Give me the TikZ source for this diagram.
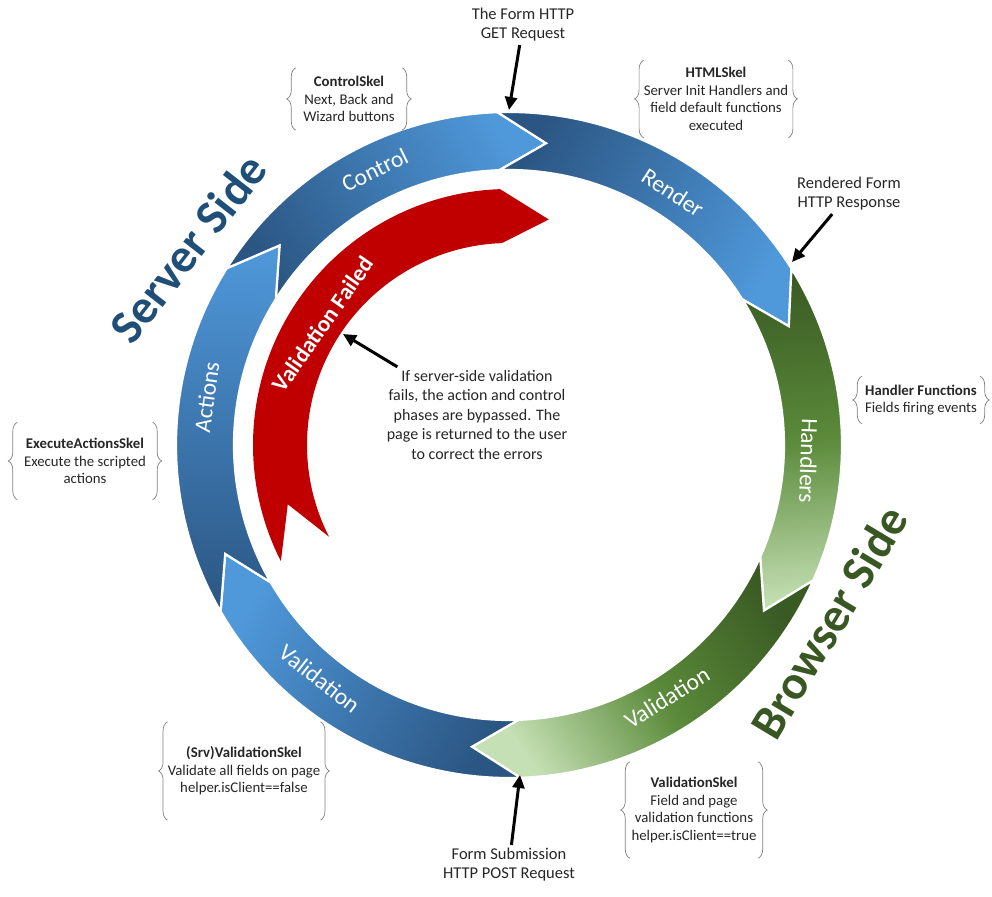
\documentclass[tikz,border=0pt]{standalone}
\usepackage{fontspec}
\setmainfont{Carlito}
\usetikzlibrary{arrows.meta,decorations.pathreplacing}

\definecolor{srvdark}{HTML}{2B5683}
\definecolor{srvlight}{HTML}{4F98DA}
\definecolor{brwdark}{HTML}{3A5A23}
\definecolor{brwmid}{HTML}{5A8A3A}
\definecolor{brwlight}{HTML}{C5E0B4}
\definecolor{srvtext}{HTML}{1F4E79}
\definecolor{brwtext}{HTML}{385723}
\definecolor{failred}{HTML}{C00000}
\definecolor{bracegray}{HTML}{7F7F7F}
\definecolor{notetext}{HTML}{262626}

\begin{document}
\begin{tikzpicture}[x=1pt,y=1pt,
    phase/.style={draw=white, line width=2.2pt, line join=miter},
    phaselabel/.style={text=white, font=\fontsize{23.5}{27}\selectfont},
    sidelabel/.style={font=\fontsize{48}{56}\selectfont\bfseries},
    skel/.style={align=center, text=notetext, inner xsep=0pt, font=\fontsize{14.8}{17.5}\selectfont},
    note/.style={align=center, text=notetext, font=\fontsize{16.5}{19}\selectfont},
    skelbrace/.style={draw=bracegray, line width=0.7pt, decorate, decoration={brace, amplitude=9pt}},
    pointer/.style={line width=3pt, -{Triangle[length=13pt, width=12pt]}}]
  \useasboundingbox (-509,-451) rectangle (483,445);

  % the ring, one phase per piece
  \shadedraw[phase, top color=srvlight, bottom color=srvdark, shading angle=-60]
    (148:333) arc[start angle=148, end angle=92, radius=333] -- (83:304) -- (92:275)
    arc[start angle=92, end angle=148, radius=275] -- (139:304) -- cycle;
  \shadedraw[phase, top color=srvlight, bottom color=srvdark, shading angle=-118]
    (92:333) arc[start angle=92, end angle=32, radius=333] -- (23:304) -- (32:275)
    arc[start angle=32, end angle=92, radius=275] -- (83:304) -- cycle;
  \shadedraw[phase, top color=brwlight, bottom color=brwdark, middle color=brwmid, shading angle=-176]
    (32:333) arc[start angle=32, end angle=-24, radius=333] -- (-33:304) -- (-24:275)
    arc[start angle=-24, end angle=32, radius=275] -- (23:304) -- cycle;
  \shadedraw[phase, top color=brwlight, bottom color=brwdark, middle color=brwmid, shading angle=124]
    (-24:333) arc[start angle=-24, end angle=-88, radius=333] -- (-97:304) -- (-88:275)
    arc[start angle=-88, end angle=-24, radius=275] -- (-33:304) -- cycle;
  \shadedraw[phase, top color=srvlight, bottom color=srvdark, shading angle=61]
    (-88:333) arc[start angle=-88, end angle=-150, radius=333] -- (-159:304) -- (-150:275)
    arc[start angle=-150, end angle=-88, radius=275] -- (-97:304) -- cycle;
  \shadedraw[phase, top color=srvlight, bottom color=srvdark, shading angle=-1]
    (210:333) arc[start angle=210, end angle=148, radius=333] -- (139:304) -- (148:275)
    arc[start angle=148, end angle=210, radius=275] -- (201:304) -- cycle;

  % short cut when validation fails
  \fill[failred]
    (207:256) arc[start angle=207, end angle=92, radius=256] -- (80:229) -- (92:202)
    arc[start angle=92, end angle=207, radius=202] -- (195:229) -- cycle;

  \node[phaselabel, rotate=26] (control) at (116:306) {Control};
  \node[phaselabel, rotate=-33] (render) at (57:301) {Render};
  \node[phaselabel, rotate=-92] (handlers) at (-3:300) {Handlers};
  \node[phaselabel, rotate=32] (brwval) at (-58:298) {Validation};
  \node[phaselabel, rotate=-38] (srvval) at (-129:301) {Validation};
  \node[phaselabel, rotate=82] (actions) at (171:306) {Actions};
  \node[phaselabel, rotate=55, font=\fontsize{23}{27}\selectfont\bfseries] (failed) at (147:222) {Validation Failed};

  \node[sidelabel, text=srvtext, rotate=52] (server) at (-321,197) {Server Side};
  \node[sidelabel, text=brwtext, rotate=59] (browser) at (320,-177) {Browser Side};

  % skeleton notes with braces
  \node[skel, minimum width=106pt, minimum height=62pt] (ctrlskel) at (-160,346)
    {\textbf{ControlSkel}\\Next, Back and\\Wizard buttons};
  \node[skel, minimum width=142pt, minimum height=77pt] (htmlskel) at (207,346)
    {\textbf{HTMLSkel}\\Server Init Handlers and\\field default functions\\executed};
  \node[skel, minimum width=118pt, minimum height=47pt] (handlerfn) at (412,45)
    {\textbf{Handler Functions}\\Fields firing events};
  \node[skel, minimum width=135pt, minimum height=77pt] (execskel) at (-424,-16)
    {\textbf{ExecuteActionsSkel}\\Execute the scripted\\actions};
  \node[skel, minimum width=148pt, minimum height=98pt] (srvvalskel) at (-265,-326)
    {\textbf{(Srv)ValidationSkel}\\Validate all fields on page\\helper.isClient==false};
  \node[skel, minimum width=128pt, minimum height=96pt] (valskel) at (185,-365)
    {\textbf{ValidationSkel}\\Field and page\\validation functions\\helper.isClient==true};

  \draw[skelbrace] (ctrlskel.south west) -- (ctrlskel.north west);
  \draw[skelbrace] (ctrlskel.north east) -- (ctrlskel.south east);
  \draw[skelbrace] (htmlskel.south west) -- (htmlskel.north west);
  \draw[skelbrace] (htmlskel.north east) -- (htmlskel.south east);
  \draw[skelbrace] (handlerfn.south west) -- (handlerfn.north west);
  \draw[skelbrace] (handlerfn.north east) -- (handlerfn.south east);
  \draw[skelbrace] (execskel.south west) -- (execskel.north west);
  \draw[skelbrace] (execskel.north east) -- (execskel.south east);
  \draw[skelbrace] (srvvalskel.south west) -- (srvvalskel.north west);
  \draw[skelbrace] (srvvalskel.north east) -- (srvvalskel.south east);
  \draw[skelbrace] (valskel.south west) -- (valskel.north west);
  \draw[skelbrace] (valskel.north east) -- (valskel.south east);

  % requests and responses
  \node[note] (gettext) at (14,420) {The Form HTTP\\GET Request};
  \node[note] (resptext) at (340,251) {Rendered Form\\HTTP Response};
  \node[note] (posttext) at (0,-420) {Form Submission\\HTTP POST Request};
  \node[note, font=\fontsize{16}{19.5}\selectfont] (failnote) at (-32,30)
    {If server-side  validation\\fails, the action and control\\phases are bypassed. The\\page is returned to the user\\to correct the errors};

  \coordinate (getpt) at (0,335);
  \coordinate (resppt) at (283,183);
  \coordinate (postpt) at (11,-330);
  \coordinate (failpt) at (-166,111);

  \draw[pointer] (gettext) -- (getpt);
  \draw[pointer] (resptext) -- (resppt);
  \draw[pointer] (posttext) -- (postpt);
  \draw[pointer] (failnote) -- (failpt);
\end{tikzpicture}
\end{document}
